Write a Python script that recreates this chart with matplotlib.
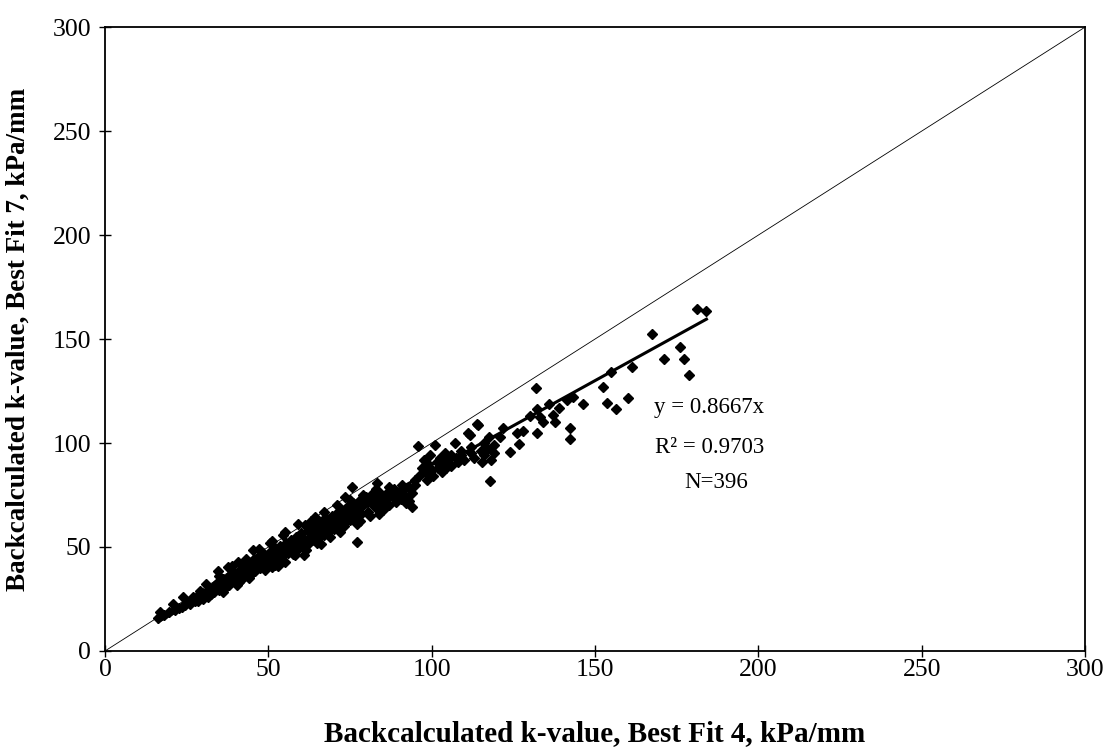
import matplotlib
matplotlib.use("Agg")
import matplotlib.pyplot as plt
import numpy as np

plt.rcParams['font.family'] = ['Liberation Serif', 'DejaVu Serif']

# k-values: Best Fit 4 (x) vs Best Fit 7 (y), kPa/mm
bf4 = [16.8, 16.3, 18.0, 20.9, 19.5, 21.5, 22.5, 23.5, 24.5, 25.0, 26.0, 26.5, 27.5, 28.0, 28.5,
       29.5, 30.0, 30.5, 31.0, 31.5, 32.0, 32.5, 33.0, 33.5, 34.0, 34.7, 34.5, 35.0, 35.5, 36.0,
       36.5, 37.0, 37.7, 37.5, 38.0, 38.5, 39.0, 39.5, 40.3, 40.8, 40.5, 41.0, 41.5, 42.0, 42.5,
       43.0, 43.5, 44.0, 44.5, 45.4, 45.0, 45.5, 46.0, 46.5, 47.0, 47.5, 48.0, 48.5, 49.0, 49.5,
       50.5, 50.0, 50.5, 51.0, 51.5, 52.0, 52.5, 53.0, 53.5, 54.0, 54.6, 54.5, 55.1, 55.5, 56.0,
       56.5, 57.0, 57.5, 58.0, 58.5, 59.0, 59.5, 60.0, 60.5, 61.2, 61.0, 61.5, 62.0, 62.5, 63.0,
       63.5, 64.3, 64.0, 64.5, 65.0, 65.5, 66.0, 66.5, 67.0, 67.5, 68.0, 68.5, 69.0, 69.5, 70.0,
       70.5, 71.0, 71.5, 72.0, 72.5, 73.5, 73.0, 74.0, 74.5, 75.5, 75.0, 75.5, 76.0, 77.0, 76.5,
       77.5, 78.0, 78.5, 79.0, 80.0, 80.5, 81.0, 82.0, 82.5, 83.2, 83.0, 84.0, 84.5, 85.0, 86.0,
       86.5, 87.0, 88.0, 88.5, 89.0, 90.0, 90.5, 91.0, 92.0, 93.0, 93.9, 94.0, 95.0, 95.9, 96.0,
       97.0, 97.5, 98.0, 98.5, 99.0, 99.5, 100.0, 100.5, 101.0, 101.5, 102.0, 102.5, 103.0, 103.5,
       104.0, 104.5, 105.0, 106.0, 107.1, 107.5, 108.0, 109.0, 110.0, 111.7, 111.2, 112.0, 113.0,
       114.2, 113.8, 115.0, 115.5, 116.0, 117.0, 117.6, 117.8, 118.0, 119.0, 120.9, 121.9, 124.0,
       126.0, 126.8, 128.0, 130.1, 131.9, 132.1, 133.2, 132.1, 134.0, 136.0, 137.1, 137.7, 139.0,
       141.3, 143.3, 142.3, 142.3, 146.4, 152.5, 153.6, 154.8, 156.4, 160.0, 161.4, 167.5, 171.2,
       176.0, 177.2, 178.9, 181.1, 184.1,
       # extra points filling the dense band
       24.0, 27.0, 29.0, 31.0, 33.0, 35.0, 37.0, 39.0, 41.0, 43.0, 45.0, 47.0, 49.0, 51.0, 53.0,
       55.0, 57.0, 59.0, 61.0, 63.0, 65.0, 67.0, 69.0, 71.0, 73.0, 75.0, 77.0, 79.0, 81.0, 83.0,
       85.0, 87.0, 89.0, 91.0, 93.0, 95.0, 36.0, 44.0, 52.0, 58.0, 66.0, 72.0, 78.0, 84.0, 92.0,
       99.0, 103.0, 106.0, 109.0, 112.0, 116.0, 119.0]
bf7 = [18.9, 15.7, 17.5, 22.6, 18.5, 19.8, 20.5, 21.2, 22.0, 23.5, 22.8, 24.5, 24.0, 25.8, 23.8,
       26.5, 25.0, 28.0, 27.0, 25.8, 29.5, 27.5, 31.0, 28.5, 30.0, 38.5, 33.0, 29.5, 31.5, 34.5,
       30.5, 33.0, 40.5, 35.5, 31.5, 36.5, 33.5, 38.0, 31.7, 42.9, 35.0, 37.5, 39.5, 34.5, 41.0,
       37.0, 39.0, 42.5, 36.5, 48.6, 40.5, 44.0, 38.5, 42.0, 45.5, 40.0, 43.5, 47.0, 41.5, 45.0,
       51.8, 43.0, 47.5, 40.5, 45.5, 49.5, 43.0, 47.0, 50.5, 45.0, 55.8, 48.5, 42.9, 52.0, 47.0,
       50.0, 53.5, 46.5, 51.0, 55.0, 49.0, 52.5, 56.5, 50.5, 60.6, 54.0, 48.5, 57.5, 52.0, 55.5,
       59.0, 64.6, 53.5, 57.5, 61.0, 55.0, 58.5, 62.5, 56.0, 60.0, 63.5, 57.5, 61.5, 65.0, 58.5,
       62.0, 66.5, 60.5, 64.0, 68.0, 74.2, 61.5, 65.5, 69.5, 78.7, 63.0, 67.5, 71.0, 52.5, 64.5,
       68.5, 72.5, 66.0, 70.0, 74.0, 67.0, 71.5, 76.0, 69.0, 80.6, 73.0, 70.5, 75.5, 68.0, 72.5,
       76.5, 70.0, 74.5, 78.0, 71.5, 75.5, 73.0, 77.0, 74.0, 78.5, 69.4, 76.0, 80.0, 98.7, 84.0,
       88.0, 92.0, 86.0, 82.0, 90.0, 94.0, 87.0, 84.0, 99.0, 91.0, 88.0, 93.0, 86.0, 90.0,
       95.0, 88.0, 92.0, 89.0, 99.8, 93.0, 91.0, 94.0, 92.0, 103.8, 104.6, 95.0, 93.0,
       108.7, 109.1, 96.0, 91.0, 94.0, 97.0, 103.0, 81.9, 92.0, 95.0, 103.0, 107.1, 95.8,
       104.7, 99.5, 106.0, 113.0, 126.6, 116.2, 112.6, 104.7, 110.0, 118.6, 113.5, 110.2, 117.0,
       120.7, 122.0, 107.1, 101.8, 118.8, 127.1, 119.1, 134.0, 116.5, 121.8, 136.4, 152.3, 140.2,
       146.3, 140.4, 132.7, 164.4, 163.6,
       26.0, 26.0, 29.0, 32.0, 29.5, 36.0, 31.0, 41.0, 33.0, 44.0, 37.5, 49.0, 39.0, 53.0, 41.0,
       57.0, 49.5, 61.0, 46.0, 62.5, 52.0, 67.0, 55.0, 70.0, 60.0, 72.5, 61.0, 75.0, 65.0, 78.0,
       70.0, 79.0, 73.0, 80.0, 72.0, 82.0, 28.5, 35.0, 41.5, 46.0, 51.5, 57.0, 62.5, 66.0, 71.0,
       85.0, 90.0, 94.0, 96.0, 98.0, 100.0, 99.0]

slope = 0.8667
r2 = 0.9703
n_obs = 396
ticks = [0, 50, 100, 150, 200, 250, 300]

fig = plt.figure(figsize=(11.08, 7.53), dpi=100)
ax = fig.add_axes([0.0948, 0.1355, 0.8845, 0.8285])

# line of equality
ax.plot([0, 300], [0, 300], color='black', linewidth=0.6, zorder=1)

ax.plot(bf4, bf7, linestyle='none', marker='D', markersize=5.2,
        color='black', zorder=2)

# regression through origin
xfit = np.array([min(bf4), max(bf4)])
ax.plot(xfit, slope * xfit, color='black', linewidth=2.2, zorder=3)

ax.text(185, 117, 'y = %.4fx' % slope, ha='center', va='center', fontsize=16.5)
ax.text(185, 98, 'R\u00b2 = %.4f' % r2, ha='center', va='center', fontsize=16.5)
ax.text(187, 81, 'N=%d' % n_obs, ha='center', va='center', fontsize=16.5)

ax.set_xlim(0, 300)
ax.set_ylim(0, 300)
ax.set_xticks(ticks)
ax.set_yticks(ticks)
ax.tick_params(direction='inout', length=8, width=1, labelsize=18.5)
ax.tick_params(axis='x', pad=2)
ax.tick_params(axis='y', pad=6)
for s in ax.spines.values():
    s.set_linewidth(1.3)

ax.set_xlabel('Backcalculated k-value, Best Fit 4, kPa/mm', fontsize=21,
              fontweight='bold', labelpad=28)
ax.set_ylabel('Backcalculated k-value, Best Fit 7, kPa/mm', fontsize=19.5,
              fontweight='bold', labelpad=16)

fig.savefig('out.png', dpi=100)
